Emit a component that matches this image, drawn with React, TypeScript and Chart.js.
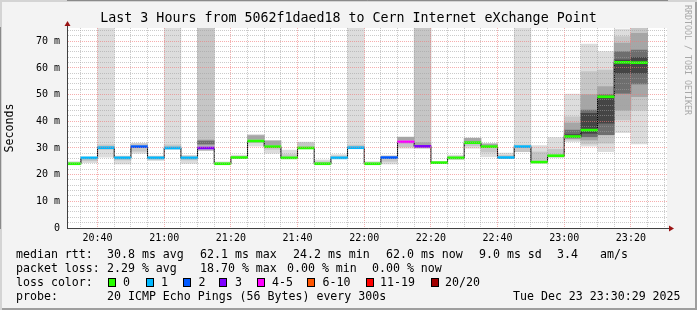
import React, { useEffect, useRef } from 'react';
import { Chart, registerables } from 'chart.js';

Chart.register(...registerables);

// ---------- data ----------
const segmentStart = [
  '20:30', '20:35', '20:40', '20:45', '20:50', '20:55', '21:00', '21:05', '21:10', '21:15',
  '21:20', '21:25', '21:30', '21:35', '21:40', '21:45', '21:50', '21:55', '22:00', '22:05',
  '22:10', '22:15', '22:20', '22:25', '22:30', '22:35', '22:40', '22:45', '22:50', '22:55',
  '23:00', '23:05', '23:10', '23:15', '23:20',
];
const STEP_MIN = 5;

// median rtt per 5-minute step (ms)
const medianRtt = [
  24.1, 26.3, 30.1, 26.3, 30.5, 26.3, 30.0, 26.3, 30.0, 24.1,
  26.4, 32.6, 30.5, 26.3, 30.0, 24.1, 26.3, 30.1, 24.1, 26.4,
  32.3, 30.6, 24.5, 26.3, 32.0, 30.5, 26.4, 30.5, 24.7, 27.1,
  34.3, 36.7, 49.2, 62.1, 62.0,
];

// loss colour class per step (index into lossLabels / lossColors)
const lossIndex = [
  0, 1, 1, 1, 2, 1, 1, 1, 3, 0,
  0, 0, 0, 0, 0, 0, 1, 1, 0, 2,
  4, 3, 0, 0, 0, 0, 1, 1, 0, 0,
  0, 0, 0, 0, 0,
];
const lossLabels = ['0', '1', '2', '3', '4-5', '6-10', '11-19', '20/20'];
const lossColors = ['#26ff00', '#00b8ff', '#0059ff', '#7e00ff', '#ff00ff', '#ff5500', '#ff0000', '#a10000'];

type Band = [number, number] | null;

// smoke layers (ms ranges), lightest to darkest
const smokeOuter: Band[] = [
  [23.9, 24.9], [24.5, 26.6], [26.6, 80], [24.0, 27.0], [28.0, 31.8],
  [25.3, 27.0], [29.5, 80], [24.2, 27.2], [29.0, 80], [24.0, 24.8],
  [26.2, 27.3], [30.7, 35.0], [28.0, 32.8], [26.2, 29.2], [29.8, 32.2],
  [23.9, 25.5], [26.2, 27.5], [29.7, 80], [24.0, 24.9], [24.0, 27.2],
  [29.9, 34.2], [29.9, 80], [24.3, 25.0], [25.6, 27.3], [29.9, 33.8],
  [26.7, 31.6], [26.0, 28.1], [28.6, 80], [24.5, 30.9], [26.4, 33.9],
  [32.4, 50.2], [30.7, 69.0], [28.6, 66.1], [35.7, 74.6], [31.5, 80],
];
const smokeInner: Band[] = [
  null, [25.2, 26.0], [29.5, 31.2], [25.5, 26.8], [28.8, 31.6],
  [25.8, 26.8], [29.8, 31.2], [25.5, 27.0], [29.0, 80], null,
  [26.3, 26.9], [32.0, 34.8], [29.5, 32.7], [26.3, 27.5], [30.0, 32.0],
  [24.2, 24.8], [26.3, 27.0], [29.9, 31.1], null, [25.0, 26.6],
  [30.5, 34.0], [29.9, 80], null, [26.0, 26.8], [30.8, 33.6],
  [28.5, 31.5], [26.3, 27.2], [28.6, 31.1], [24.8, 28.5], [26.8, 29.5],
  [33.0, 41.7], [31.5, 58.6], [31.8, 59.2], [40.5, 71.8], [44.2, 80],
];
const smokeMid: Band[] = [
  null, null, null, null, null,
  null, null, null, [31.0, 33.0], null,
  null, [33.3, 34.6], [31.1, 32.6], null, null,
  null, null, null, null, null,
  [33.0, 34.0], [30.7, 32.0], null, null, [32.4, 33.6],
  [30.5, 31.5], null, null, null, null,
  [33.5, 39.4], [33.0, 50.0], [34.9, 53.0], [44.2, 69.3], [49.2, 73.0],
];
const smokeDark: Band[] = [
  null, null, null, null, null,
  null, null, null, [31.5, 32.6], null,
  null, null, null, null, null,
  null, null, null, null, null,
  null, null, null, null, null,
  null, null, null, null, null,
  [33.8, 36.7], [34.2, 44.2], [35.0, 50.0], [50.5, 66.1], [54.0, 66.7],
];
const smokeCore: Band[] = [
  null, null, null, null, null,
  null, null, null, null, null,
  null, null, null, null, null,
  null, null, null, null, null,
  null, null, null, null, null,
  null, null, null, null, null,
  [34.0, 35.0], [35.5, 43.0], [39.3, 48.6], [58.0, 63.0], [58.0, 64.0],
];
const smokeShades = ['#dddddd', '#c6c6c6', '#a6a6a6', '#6e6e6e', '#454545'];

const xRange = ['20:30:50', '23:30:50'];
const xGridRange = ['20:35', '23:30'];
const xTickLabels = ['20:40', '21:00', '21:20', '21:40', '22:00', '22:20', '22:40', '23:00', '23:20'];
const yMax = 75;
const yMinorStep = 2;
const yTickValues = [0, 10, 20, 30, 40, 50, 60, 70];
const yTickLabels = ['0', '10 m', '20 m', '30 m', '40 m', '50 m', '60 m', '70 m'];

const titleText = 'Last 3 Hours from 5062f1daed18 to Cern Internet eXchange Point';
const yTitle = 'Seconds';
const rttStats = ['30.8 ms avg', '62.1 ms max', '24.2 ms min', '62.0 ms now', '9.0 ms sd', '3.4', 'am/s'];
const lossStats = ['2.29 % avg', '18.70 % max', '0.00 % min', '0.00 % now'];
const probeText = '20 ICMP Echo Pings (56 Bytes) every 300s';
const dateText = 'Tue Dec 23 23:30:29 2025';
const creditText = 'RRDTOOL / TOBI OETIKER';

// ---------- helpers ----------
const toMin = (s: string) => {
  const p = s.split(':').map(Number);
  return p[0] * 60 + p[1] + (p[2] || 0) / 60;
};

const MONO = "'DejaVu Sans Mono', 'Liberation Mono', monospace";
const MEDIAN_HALF = 0.38;
const MINOR_GRID = 'rgba(160,160,160,0.55)';
const MAJOR_GRID = 'rgba(240,120,120,0.6)';

const framePlugin = {
  id: 'rrdFrame',
  beforeDraw(chart: any) {
    const { ctx, chartArea: a } = chart;
    ctx.save();
    ctx.fillStyle = '#ffffff';
    ctx.fillRect(a.left, a.top, a.right - a.left, a.bottom - a.top);
    ctx.restore();
  },
  afterDraw(chart: any) {
    const { ctx, chartArea: a } = chart;
    const lx = Math.round(a.left) + 0.5;
    const by = Math.round(a.bottom) + 0.5;
    ctx.save();
    ctx.strokeStyle = '#404040';
    ctx.lineWidth = 1;
    ctx.beginPath();
    ctx.moveTo(lx, a.bottom);
    ctx.lineTo(lx, a.top - 3);
    ctx.moveTo(a.left, by);
    ctx.lineTo(a.right + 3, by);
    ctx.stroke();
    ctx.fillStyle = '#9a1414';
    ctx.beginPath();
    ctx.moveTo(lx - 3, a.top - 2);
    ctx.lineTo(lx + 3, a.top - 2);
    ctx.lineTo(lx, a.top - 7);
    ctx.closePath();
    ctx.fill();
    ctx.beginPath();
    ctx.moveTo(a.right + 2, by - 3);
    ctx.lineTo(a.right + 2, by + 3);
    ctx.lineTo(a.right + 7, by);
    ctx.closePath();
    ctx.fill();
    ctx.restore();
  },
};

export default function App() {
  const ref = useRef<HTMLCanvasElement>(null);

  useEffect(() => {
    const canvas = ref.current;
    if (!canvas) return;
    const starts = segmentStart.map(toMin);
    const centerOf = (i: number) => starts[i] + STEP_MIN / 2;
    const floatBars = (layer: Band[]) =>
      layer
        .map((r, i) => (r ? { x: centerOf(i), y: r } : null))
        .filter((d) => d !== null);

    const barCommon = {
      type: 'bar' as const,
      grouped: false,
      barPercentage: 1,
      categoryPercentage: 1,
      borderWidth: 0,
      borderSkipped: false,
    };

    const datasets: any[] = [];
    [smokeOuter, smokeInner, smokeMid, smokeDark, smokeCore].forEach((layer, k) => {
      datasets.push({ ...barCommon, data: floatBars(layer), backgroundColor: smokeShades[k], order: 20 - k });
    });
    const last = starts.length - 1;
    datasets.push({
      type: 'line',
      data: [
        ...starts.map((s, i) => ({ x: s, y: medianRtt[i] })),
        { x: starts[last] + STEP_MIN, y: medianRtt[last] },
      ],
      borderColor: '#000000',
      borderWidth: 1,
      pointRadius: 0,
      stepped: 'before',
      fill: false,
      order: 2,
    });
    datasets.push({
      ...barCommon,
      data: medianRtt.map((m, i) => ({ x: centerOf(i), y: [m - MEDIAN_HALF, m + MEDIAN_HALF] })),
      backgroundColor: lossIndex.map((k) => lossColors[k]),
      order: 1,
    });

    const xLabelAt = new Map<number, string>(xTickLabels.map((l) => [toMin(l), l]));
    const yLabelAt = new Map<number, string>(yTickValues.map((v, i) => [v, yTickLabels[i]]));

    const chart = new Chart(canvas, {
      type: 'bar',
      data: { datasets },
      plugins: [framePlugin],
      options: {
        animation: false,
        responsive: false,
        events: [],
        layout: { padding: 0 },
        plugins: {
          legend: { display: false },
          tooltip: { enabled: false },
          title: {
            display: true,
            text: titleText,
            color: '#000000',
            font: { family: MONO, size: 13.3, weight: 'normal' },
            padding: { top: 10.5, bottom: 1.5 },
          },
        },
        scales: {
          x: {
            type: 'linear',
            min: toMin(xRange[0]),
            max: toMin(xRange[1]),
            offset: false,
            grid: {
              offset: false,
              z: 1,
              drawTicks: false,
              color: (c: any) => (xLabelAt.has(c.tick?.value) ? MAJOR_GRID : MINOR_GRID),
            },
            border: { display: true, color: '#404040', dash: [1, 1] },
            ticks: {
              autoSkip: false,
              maxRotation: 0,
              padding: 4,
              color: '#000000',
              font: { family: MONO, size: 10 },
              callback: (v: any) => xLabelAt.get(Number(v)) ?? '',
            },
            afterBuildTicks: (scale: any) => {
              const t: { value: number }[] = [];
              for (let m = toMin(xGridRange[0]); m <= toMin(xGridRange[1]); m += STEP_MIN) t.push({ value: m });
              scale.ticks = t;
            },
            afterFit: (scale: any) => {
              scale.height = 22;
            },
          },
          y: {
            type: 'linear',
            min: 0,
            max: yMax,
            grid: {
              z: 1,
              drawTicks: false,
              color: (c: any) => {
                const v = c.tick?.value;
                if (v === yMax) return 'rgba(0,0,0,0)';
                return yLabelAt.has(v) ? MAJOR_GRID : MINOR_GRID;
              },
            },
            border: { display: true, color: '#404040', dash: [1, 1] },
            title: {
              display: true,
              text: yTitle,
              color: '#000000',
              font: { family: MONO, size: 11.6, weight: 'normal' },
              padding: { top: 3, bottom: 0 },
            },
            ticks: {
              autoSkip: false,
              padding: 7,
              color: '#000000',
              font: { family: MONO, size: 10 },
              callback: (v: any) => yLabelAt.get(Number(v)) ?? '',
            },
            afterBuildTicks: (scale: any) => {
              const t: { value: number }[] = [];
              for (let v = 0; v < yMax; v += yMinorStep) t.push({ value: v });
              scale.ticks = t;
            },
            afterFit: (scale: any) => {
              scale.width = 67;
            },
          },
          yRight: {
            type: 'linear',
            position: 'right',
            min: 0,
            max: yMax,
            grid: { display: false, drawOnChartArea: false, drawTicks: false },
            border: { display: false },
            ticks: { display: false },
            afterFit: (scale: any) => {
              scale.width = 30;
            },
          },
        },
      } as any,
    });
    return () => chart.destroy();
  }, []);

  const rowStyle = (centerY: number): React.CSSProperties => ({
    position: 'absolute',
    top: centerY - 7,
    height: 14,
    lineHeight: '14px',
    fontFamily: MONO,
    fontSize: '11.6px',
    color: '#000',
    whiteSpace: 'pre',
  });
  const chunk = (x: number, text: string, y: number, key: string) => (
    <span key={key} style={{ ...rowStyle(y), left: x }}>{text}</span>
  );

  const rttX = [107, 200, 293, 386, 479, 557, 600];
  const lossX = [107, 200, 287, 372];
  const boxX = [108, 146, 183, 219, 257, 307, 366, 431];
  const boxLabelX = [123, 161, 198.5, 235, 272, 322.5, 380, 445];

  return (
    <div
      style={{
        position: 'fixed',
        left: 0,
        top: 0,
        width: 697,
        height: 310,
        background: '#f3f3f3',
        boxShadow: 'inset 2px 2px 0 #d4d4d4, inset -2px -2px 0 #9e9e9e',
        overflow: 'hidden',
      }}
    >
      <canvas ref={ref} width={697} height={250} style={{ position: 'absolute', left: 0, top: 0, width: 697, height: 250 }} />
      <div
        style={{
          position: 'absolute',
          left: 683,
          top: 5,
          writingMode: 'vertical-rl',
          fontFamily: MONO,
          fontSize: '8.3px',
          lineHeight: '10px',
          color: '#a8a8a8',
          whiteSpace: 'pre',
        }}
      >
        {creditText}
      </div>
      {chunk(16, 'median rtt:', 254, 'r0')}
      {rttStats.map((t, i) => chunk(rttX[i], t, 254, 'r' + (i + 1)))}
      {chunk(16, 'packet loss:', 268, 'l0')}
      {lossStats.map((t, i) => chunk(lossX[i], t, 268, 'l' + (i + 1)))}
      {chunk(16, 'loss color:', 282, 'c0')}
      {lossLabels.map((l, i) => (
        <React.Fragment key={'b' + i}>
          <div
            style={{
              position: 'absolute',
              left: boxX[i],
              top: 278,
              width: 6,
              height: 7,
              border: '1px solid #000',
              background: lossColors[i],
            }}
          />
          {chunk(boxLabelX[i], l, 282, 'bl' + i)}
        </React.Fragment>
      ))}
      {chunk(16, 'probe:', 296, 'p0')}
      {chunk(107, probeText, 296, 'p1')}
      {chunk(513, dateText, 296, 'p2')}
    </div>
  );
}
